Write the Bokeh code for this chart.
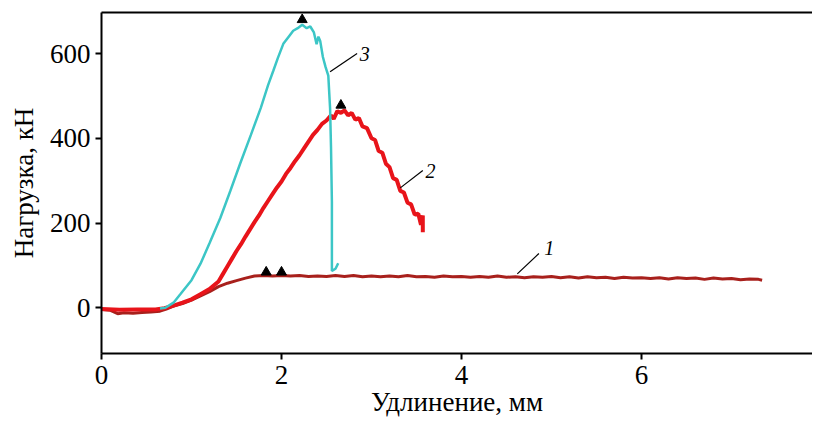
from bokeh.plotting import figure
from bokeh.models import Range1d, FixedTicker, LinearAxis
from bokeh.embed import file_html
from bokeh.resources import INLINE
from bokeh.core.properties import value

# ---- data ----
x_ticks = [0, 2, 4, 6, 8]
y_ticks = [0, 200, 400, 600]

# curve 1 (dark red)
c1_x = [0.00, 0.10, 0.18, 0.25, 0.35, 0.45, 0.55, 0.65, 0.72, 0.80, 0.90, 1.00, 1.10, 1.20, 1.30,
        1.40, 1.50, 1.60, 1.70, 1.80, 1.90, 2.00,
        2.1, 2.2, 2.3, 2.4, 2.5, 2.6, 2.7, 2.8, 2.9, 3.0, 3.1, 3.2, 3.3, 3.4, 3.5, 3.6, 3.7, 3.8, 3.9,
        4.0, 4.1, 4.2, 4.3, 4.4, 4.5, 4.6, 4.7, 4.8, 4.9, 5.0, 5.1, 5.2, 5.3, 5.4, 5.5, 5.6, 5.7, 5.8,
        5.9, 6.0, 6.1, 6.2, 6.3, 6.4, 6.5, 6.6, 6.7, 6.8, 6.9, 7.0, 7.1, 7.2, 7.3, 7.34]
c1_y = [-4, -6, -14, -12, -13, -11, -10, -8, -3, 4, 10, 18, 28, 38, 50,
        58, 64, 70, 75, 76, 75, 76,
        75, 76, 74, 75, 74, 76, 74, 76, 73, 75, 73, 75, 73, 76, 73, 74, 72, 75, 73,
        74, 72, 74, 72, 75, 72, 73, 71, 73, 72, 74, 71, 73, 70, 73, 71, 72, 69, 72,
        70, 71, 69, 71, 68, 71, 69, 70, 67, 70, 68, 69, 66, 68, 67, 65]

# curve 2 (red)
c2_x = [0.00, 0.20, 0.40, 0.60, 0.70, 0.80, 0.90, 1.00, 1.10, 1.20, 1.30,
        1.35, 1.40, 1.45, 1.50, 1.55, 1.60, 1.65, 1.70, 1.75, 1.80, 1.85, 1.90, 1.95, 2.00,
        2.05, 2.10, 2.15, 2.20, 2.25, 2.30, 2.35, 2.40, 2.45, 2.50, 2.55, 2.58, 2.62, 2.66,
        2.70, 2.74, 2.78, 2.82, 2.86, 2.90, 2.95, 3.00, 3.04, 3.08, 3.12, 3.16, 3.20, 3.24,
        3.28, 3.32, 3.36, 3.40, 3.44, 3.48, 3.52, 3.55, 3.57, 3.57]
c2_y = [-3, -5, -4, -4, -1, 5, 12, 20, 32, 44, 62,
        80, 98, 116, 134, 150, 168, 185, 202, 218, 236, 252, 268, 284, 298,
        316, 330, 346, 360, 376, 392, 408, 420, 434, 442, 454, 446, 464, 460,
        466, 454, 460, 444, 448, 428, 424, 400, 396, 370, 366, 340, 332, 306,
        302, 276, 272, 248, 244, 220, 222, 196, 218, 178]

# curve 3 (cyan)
c3_x = [0.65, 0.71, 0.80, 0.88, 1.00, 1.10, 1.20, 1.32, 1.43, 1.54, 1.66, 1.77, 1.85, 1.91,
        1.96, 2.02, 2.08, 2.13, 2.18, 2.23, 2.28, 2.32, 2.36, 2.39, 2.41, 2.43, 2.46, 2.49,
        2.52, 2.54, 2.55, 2.56, 2.56, 2.56, 2.60, 2.63]
c3_y = [-2, 0, 12, 33, 65, 104, 152, 212, 275, 340, 408, 472, 525, 560,
        590, 623, 640, 654, 660, 668, 660, 664, 650, 622, 640, 630, 592, 568,
        548, 470, 380, 250, 150, 87, 92, 105]

# peak markers
mk_x = [2.23, 2.66, 1.83, 2.00]
mk_y = [680, 478, 84, 84]

# curve labels and leader lines
lab_text = ["1", "2", "3"]
lab_x = [4.92, 3.60, 2.87]
lab_y = [142, 324, 598]
lead_x0 = [4.62, 3.32, 2.54]
lead_y0 = [80, 283, 557]
lead_x1 = [4.86, 3.57, 2.84]
lead_y1 = [128, 324, 600]

FONT = "Liberation Serif"

p = figure(width=812, height=426, x_range=Range1d(0, 7.9), y_range=Range1d(-108, 697),
           output_backend="svg", toolbar_location=None,
           min_border_left=101, min_border_top=12, min_border_right=0, min_border_bottom=73)
p.xgrid.visible = False
p.ygrid.visible = False
p.outline_line_color = None

p.xaxis.ticker = FixedTicker(ticks=x_ticks)
p.yaxis.ticker = FixedTicker(ticks=y_ticks)
p.xaxis.axis_label = "Удлинение, мм"
p.yaxis.axis_label = "Нагрузка, кН"
for ax in (p.xaxis, p.yaxis):
    ax.axis_line_width = 2
    ax.axis_line_color = "black"
    ax.major_tick_line_width = 2
    ax.major_tick_line_color = "black"
    ax.major_tick_out = 6
    ax.major_tick_in = 0
    ax.minor_tick_line_color = None
    ax.major_label_text_font = FONT
    ax.major_label_text_font_size = "27px"
    ax.major_label_text_color = "black"
    ax.axis_label_text_font = FONT
    ax.axis_label_text_font_size = "27px"
    ax.axis_label_text_font_style = "normal"
    ax.axis_label_text_color = "black"
p.xaxis.major_label_standoff = 6
p.xaxis.axis_label_standoff = 0
p.yaxis.major_label_standoff = 5
p.yaxis.axis_label_standoff = 8

top = LinearAxis(ticker=FixedTicker(ticks=[]), axis_line_width=2, axis_line_color="black",
                 major_tick_line_color=None, minor_tick_line_color=None)
p.add_layout(top, "above")

p.line(c1_x, c1_y, line_color="#a8201c", line_width=3)
p.line(c2_x, c2_y, line_color="#e8141a", line_width=4)
p.line(c3_x, c3_y, line_color="#3cc6c6", line_width=2.5)
p.scatter(mk_x, mk_y, marker="triangle", size=10, color="black")

p.segment(lead_x0, lead_y0, lead_x1, lead_y1, line_color="black", line_width=1.2)
p.text(lab_x, lab_y, text=lab_text, text_font=value(FONT), text_font_style="italic",
       text_font_size="20px", text_baseline="middle", text_align="left", text_color="black")

open("out.html", "w").write(file_html(p, INLINE))
